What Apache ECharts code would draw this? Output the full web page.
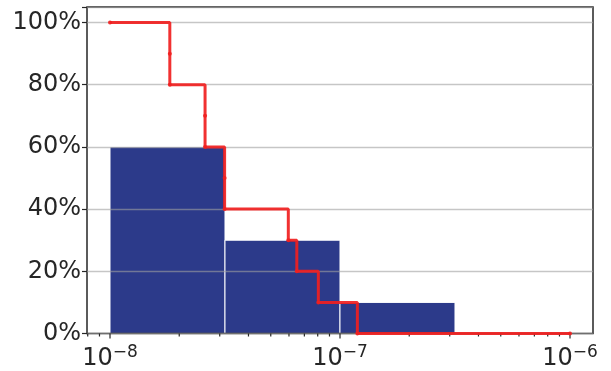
<!DOCTYPE html>
<html>
<head>
<meta charset="utf-8">
<script src="https://cdn.jsdelivr.net/npm/echarts@6/dist/echarts.min.js"></script>
<style>
  html, body { margin: 0; padding: 0; background: #fff; }
  #chart { width: 611px; height: 371px; }
</style>
</head>
<body>
<div id="chart"></div>
<script>
// Histogram bins (log-spaced edges) and the share of samples in each bin, in %
const binEdges = [1e-8, 3.162e-8, 1e-7, 3.162e-7];
const binShares = [60, 30, 10];

// Sorted sample values and the share of samples above each one (survival curve), in %
const sampleValues = [1.82e-8, 1.82e-8, 2.59e-8, 2.59e-8, 3.15e-8, 3.15e-8, 5.96e-8, 6.49e-8, 8.05e-8, 1.19e-7];
const survivalShares = [90, 80, 70, 60, 50, 40, 30, 20, 10, 0];
const curveStart = [1e-8, 100];
const curveEnd = [1e-6, 0];

// Axis ticks
const xMajorTicks = [1e-8, 1e-7, 1e-6];
const xMinorTicks = [8e-9, 9e-9,
  2e-8, 3e-8, 4e-8, 5e-8, 6e-8, 7e-8, 8e-8, 9e-8,
  2e-7, 3e-7, 4e-7, 5e-7, 6e-7, 7e-7, 8e-7, 9e-7];
const yTickValues = [0, 20, 40, 60, 80, 100];
const xRange = [7.943e-9, 1.259e-6];
const yRange = [0, 105];

const TEXT = '#262626';
const FONT = 'DejaVu Sans';
const BAR = '#2c3a8a';
const RED = 'rgba(240, 32, 32, 0.92)';

const barData = binShares.map((s, i) => [binEdges[i], binEdges[i + 1], s]);
const curveData = [curveStart]
  .concat(sampleValues.map((v, i) => [v, survivalShares[i]]))
  .concat([curveEnd]);
const tickData = xMajorTicks.map(t => [t, 5]).concat(xMinorTicks.map(t => [t, 3]));

const isMajor = v => xMajorTicks.some(t => Math.abs(Math.log10(t) - Math.log10(v)) < 1e-6);

const chart = echarts.init(document.getElementById('chart'), null, { renderer: 'canvas' });
chart.setOption({
  animation: false,
  backgroundColor: '#fff',
  grid: {
    left: 87, right: 18, top: 7, bottom: 35,
    show: true, borderColor: '#262626', borderWidth: 1.5,
    backgroundColor: 'transparent'
  },
  xAxis: {
    type: 'log',
    logBase: 10,
    min: xRange[0],
    max: xRange[1],
    axisLine: { show: false },
    axisTick: { show: false },
    splitLine: { show: false },
    minorTick: { show: false },
    axisLabel: {
      margin: 11,
      color: TEXT,
      showMinLabel: false,
      showMaxLabel: false,
      formatter: v => {
        if (!isMajor(v)) return '';
        const e = Math.round(Math.log10(v));
        return '{b|10}{s|\u2212' + (-e) + '}';
      },
      rich: {
        b: { fontSize: 24, fontFamily: FONT, color: TEXT },
        s: { fontSize: 17, fontFamily: FONT, color: TEXT, padding: [0, 0, 12, 0] }
      }
    }
  },
  yAxis: {
    type: 'value',
    min: yRange[0],
    max: yRange[1],
    interval: 20,
    axisLine: { show: false },
    axisTick: { show: true, length: 5, lineStyle: { color: TEXT, width: 1.2 } },
    axisLabel: {
      margin: 6,
      color: TEXT,
      fontSize: 24,
      fontFamily: FONT,
      formatter: v => (yTickValues.indexOf(v) >= 0 ? v + '%' : '')
    },
    splitLine: {
      show: true,
      lineStyle: { color: 'rgba(160,160,160,0.6)', width: 1.3 }
    }
  },
  series: [
    {
      // histogram bars
      type: 'custom',
      z: -1,
      silent: true,
      data: barData,
      encode: { x: [0, 1], y: 2 },
      renderItem: (params, api) => {
        const a = api.coord([api.value(0), api.value(2)]);
        const b = api.coord([api.value(1), 0]);
        return {
          type: 'rect',
          shape: { x: a[0], y: a[1], width: b[0] - a[0], height: b[1] - a[1] },
          style: { fill: BAR, stroke: '#fff', lineWidth: 1 }
        };
      }
    },
    {
      // survival curve
      type: 'line',
      step: 'end',
      data: curveData,
      symbol: 'circle',
      symbolSize: 4,
      showAllSymbol: true,
      lineStyle: { color: RED, width: 3 },
      itemStyle: { color: RED },
      z: 3
    },
    {
      // x-axis tick marks at decades and their multiples
      type: 'custom',
      silent: true,
      clip: false,
      data: tickData,
      encode: { x: 0, y: 1 },
      renderItem: (params, api) => {
        const p = api.coord([api.value(0), 0]);
        return {
          type: 'line',
          shape: { x1: p[0], y1: p[1], x2: p[0], y2: p[1] + api.value(1) },
          style: { stroke: TEXT, lineWidth: 1.2 }
        };
      }
    }
  ]
});
</script>
</body>
</html>
